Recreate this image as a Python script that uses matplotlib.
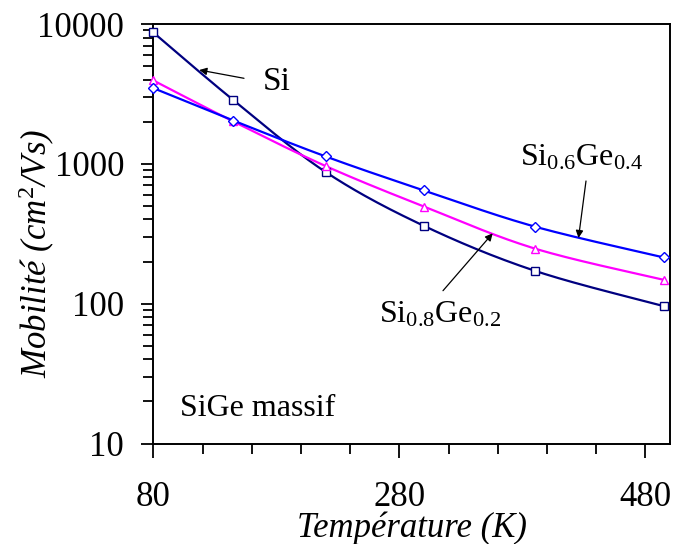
import numpy as np
import matplotlib
matplotlib.use("Agg")
import matplotlib.pyplot as plt
from matplotlib.ticker import FixedLocator, FuncFormatter, LogLocator, NullFormatter

plt.rcParams['font.family'] = ['Liberation Serif', 'DejaVu Serif']
plt.rcParams['mathtext.fontset'] = 'custom'
plt.rcParams['mathtext.rm'] = 'Liberation Serif'
plt.rcParams['mathtext.it'] = 'Liberation Serif:italic'

# ---- data ----
temperature = [80, 145, 220, 300, 390, 495]
mob_si = [8700, 2860, 875, 360, 172, 96]
mob_si08ge02 = [3950, 2010, 965, 495, 248, 148]
mob_si06ge04 = [3480, 2040, 1130, 645, 356, 214]

x_major = [80, 280, 480]
y_major = [10, 100, 1000, 10000]

XMIN, XMAX = 80, 500
YMIN, YMAX = 10, 10000

fig = plt.figure(figsize=(6.75, 5.44), dpi=100)
L, R, T, B = 153.3, 670.0, 24.0, 443.5
W, H = 675.0, 544.0
ax = fig.add_axes([L / W, 1 - B / H, (R - L) / W, (B - T) / H])
ax.set_xlim(XMIN, XMAX)
ax.set_yscale('log')
ax.set_ylim(YMIN, YMAX)

AW, AH = R - L, B - T


def smooth(x, y, n=40):
    """Excel-like smoothed line, computed in screen-proportional space."""
    x = np.asarray(x, float)
    y = np.asarray(y, float)
    u = (x - XMIN) / (XMAX - XMIN) * AW
    v = (np.log10(y) - np.log10(YMIN)) / (np.log10(YMAX) - np.log10(YMIN)) * AH
    P = np.column_stack([u, v])
    out = []
    for i in range(len(P) - 1):
        p0 = P[i - 1] if i > 0 else P[i]
        p1 = P[i]
        p2 = P[i + 1]
        p3 = P[i + 2] if i + 2 < len(P) else P[i + 1]
        c1 = p1 + (p2 - p0) / 6.0
        c2 = p2 - (p3 - p1) / 6.0
        t = np.linspace(0, 1, n)[:, None]
        seg = ((1 - t) ** 3) * p1 + 3 * ((1 - t) ** 2) * t * c1 + 3 * (1 - t) * t ** 2 * c2 + t ** 3 * p2
        out.append(seg if i == 0 else seg[1:])
    S = np.vstack(out)
    xs = S[:, 0] / AW * (XMAX - XMIN) + XMIN
    ys = 10 ** (S[:, 1] / AH * (np.log10(YMAX) - np.log10(YMIN)) + np.log10(YMIN))
    return xs, ys


series = [
    (mob_si, '#000080', 's', 5.4),
    (mob_si08ge02, '#FF00FF', '^', 6.2),
    (mob_si06ge04, '#0000FF', 'D', 4.8),
]
for vals, col, mk, ms in series:
    xs, ys = smooth(temperature, vals)
    ax.plot(xs, ys, color=col, lw=1.6, solid_capstyle='round', zorder=3, clip_on=False)
    ax.plot(temperature, vals, linestyle='none', marker=mk, ms=ms, mfc='white',
            mec=col, mew=1.0, zorder=4, clip_on=False)

# ---- axes styling ----
for side in ['left', 'right', 'top', 'bottom']:
    ax.spines[side].set_linewidth(1.4)
    ax.spines[side].set_color('black')

ax.xaxis.set_major_locator(FixedLocator(x_major))
ax.xaxis.set_minor_locator(FixedLocator([v for v in range(80, 481, 40) if v not in x_major]))
ax.xaxis.set_major_formatter(FuncFormatter(lambda v, p: '%d' % v))
ax.yaxis.set_major_locator(FixedLocator(y_major))
ax.yaxis.set_minor_locator(LogLocator(base=10, subs=np.arange(2, 10)))
ax.yaxis.set_major_formatter(FuncFormatter(lambda v, p: '%d' % v))
ax.yaxis.set_minor_formatter(NullFormatter())

ax.tick_params(axis='x', which='major', direction='out', length=10, width=1.3,
               pad=17, labelsize=25, top=False)
ax.tick_params(axis='x', which='minor', direction='out', length=7, width=1.3, top=False)
ax.tick_params(axis='y', which='major', direction='out', length=9, width=1.3,
               pad=12, labelsize=25, right=False)
ax.tick_params(axis='y', which='minor', direction='out', length=7.5, width=1.3, right=False)

ax.set_xlabel('Température (K)', fontsize=25, fontstyle='italic')
ax.xaxis.label.set_va('baseline')
ax.xaxis.set_label_coords(0.5, (H - 537 - (H - B)) / AH)

ax.set_ylabel(r'Mobilité (cm$^{\mathit{2}}$/Vs)', fontsize=25, fontstyle='italic')
ax.yaxis.label.set_va('center')
ax.yaxis.set_label_coords((37 - L) / AW, (B - 253) / AH)


def axf(px, py):
    return ((px - L) / AW, (B - py) / AH)


arrow_kw = dict(arrowstyle='-|>', lw=0.9, color='black',
                mutation_scale=11, shrinkA=0, shrinkB=0)

# ---- annotations ----
ax.text(*axf(263, 90), 'Si', transform=ax.transAxes, fontsize=24,
        ha='left', va='baseline')
ax.annotate('', xy=axf(199.3, 70), xycoords='axes fraction',
            xytext=axf(244, 78.3), textcoords='axes fraction', arrowprops=arrow_kw)

ax.text(*axf(519.6, 166), r'Si$_{0.6}$Ge$_{0.4}$', transform=ax.transAxes,
        fontsize=23, ha='left', va='baseline')
ax.annotate('', xy=axf(578.5, 238), xycoords='axes fraction',
            xytext=axf(586, 181), textcoords='axes fraction', arrowprops=arrow_kw)

ax.text(*axf(379, 322.5), r'Si$_{0.8}$Ge$_{0.2}$', transform=ax.transAxes,
        fontsize=23, ha='left', va='baseline')
ax.annotate('', xy=axf(492.7, 233.3), xycoords='axes fraction',
            xytext=axf(443, 290.7), textcoords='axes fraction', arrowprops=arrow_kw)

ax.text(*axf(180, 416), 'SiGe massif', transform=ax.transAxes, fontsize=23,
        ha='left', va='baseline')

fig.savefig('out.png', dpi=100)
